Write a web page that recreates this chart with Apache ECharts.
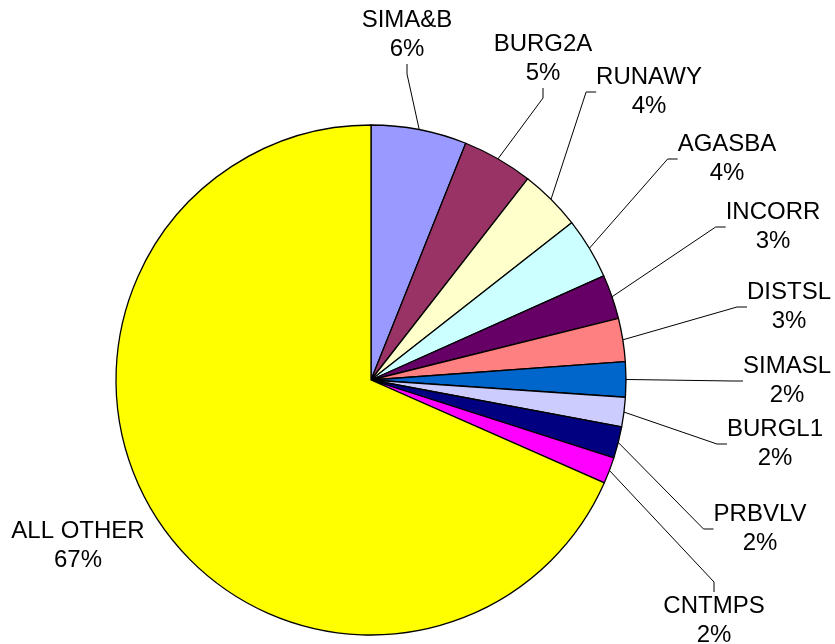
<!DOCTYPE html>
<html>
<head>
<meta charset="utf-8">
<script src="https://cdn.jsdelivr.net/npm/echarts@6/dist/echarts.min.js"></script>
<style>
  html, body { margin: 0; padding: 0; background: #fff; }
  #chart { width: 835px; height: 644px; }
</style>
</head>
<body>
<div id="chart"></div>
<script>
// slices, clockwise from 12 o'clock
var categories = ['SIMA&B', 'BURG2A', 'RUNAWY', 'AGASBA', 'INCORR', 'DISTSL', 'SIMASL', 'BURGL1', 'PRBVLV', 'CNTMPS', 'ALL OTHER']
var values = [6.06, 4.47, 3.89, 3.89, 2.8, 2.75, 2.22, 1.86, 2.0, 1.67, 68.4]
var pctLabels = ['6%', '5%', '4%', '4%', '3%', '3%', '2%', '2%', '2%', '2%', '67%']
var colors = ['#9999FF', '#993366', '#FFFFCC', '#CCFFFF', '#660066', '#FF8080', '#0066CC', '#CCCCFF', '#000080', '#FF00FF', '#FFFF00']

// label block centres (layout only)
var labelPos = [
  [407, 35], [543, 59], [649, 92], [727, 159], [773, 227],
  [789, 307], [787, 381], [775, 444], [760, 529], [714, 621], [78, 546]
]

var chart = echarts.init(document.getElementById('chart'))

var pieData = []
for (var i = 0; i < categories.length; i++) {
  var item = {
    name: categories[i],
    value: values[i],
    itemStyle: { color: colors[i] }
  }
  // the big slice has no leader line in the original
  if (categories[i] === 'ALL OTHER') {
    item.labelLine = { show: false }
  }
  pieData.push(item)
}

chart.setOption({
  animation: false,
  series: [{
    type: 'pie',
    center: [371, 380],
    radius: 255,
    startAngle: 90,
    clockwise: true,
    data: pieData,
    itemStyle: {
      borderColor: '#000',
      borderWidth: 1.3
    },
    label: {
      show: true,
      fontFamily: 'Liberation Sans, Arial, sans-serif',
      fontSize: 24,
      lineHeight: 29,
      color: '#000',
      align: 'center',
      overflow: 'none',
      formatter: function (p) {
        return p.name + '\n' + pctLabels[p.dataIndex]
      }
    },
    labelLine: {
      show: true,
      length: 20,
      length2: 10,
      lineStyle: { color: '#000', width: 1 }
    },
    emphasis: { disabled: true },
    labelLayout: function (params) {
      var p = labelPos[params.dataIndex]
      return {
        x: p[0],
        y: p[1],
        align: 'center',
        verticalAlign: 'middle'
      }
    }
  }]
})
</script>
</body>
</html>
